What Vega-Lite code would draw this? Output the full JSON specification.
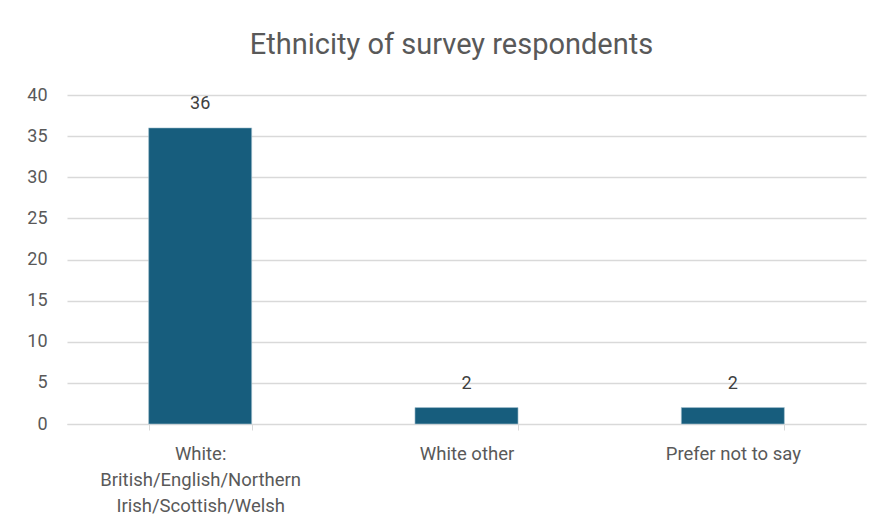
{
  "$schema": "https://vega.github.io/schema/vega-lite/v6.json",
  "autosize": {"type": "none"},
  "padding": {"left": 67, "top": 95, "right": 16, "bottom": 107},
  "width": 799,
  "height": 329,
  "background": "white",
  "title": {
    "text": "Ethnicity of survey respondents",
    "font": "Roboto",
    "fontSize": 29,
    "fontWeight": "normal",
    "color": "#595959",
    "anchor": "middle",
    "offset": 26,
    "dx": -15
  },
  "data": {
    "values": [
      {"ethnicity": "White: British/English/Northern Irish/Scottish/Welsh", "count": 36},
      {"ethnicity": "White other", "count": 2},
      {"ethnicity": "Prefer not to say", "count": 2}
    ]
  },
  "encoding": {
    "x": {
      "field": "ethnicity",
      "type": "nominal",
      "sort": null,
      "scale": {"paddingInner": 0.613, "paddingOuter": 0.3065},
      "axis": {
        "title": null,
        "labelAngle": 0,
        "labelFont": "Roboto",
        "labelFontSize": 18.5,
        "labelColor": "#595959",
        "labelLimit": 400,
        "labelLineHeight": 26,
        "labelPadding": 14,
        "labelExpr": "datum.value == 'White: British/English/Northern Irish/Scottish/Welsh' ? ['White:', 'British/English/Northern', 'Irish/Scottish/Welsh'] : datum.value",
        "domainColor": "#d9d9d9",
        "tickColor": "#d9d9d9",
        "tickSize": 6,
        "tickBand": "extent",
        "grid": false
      }
    },
    "y": {
      "field": "count",
      "type": "quantitative",
      "scale": {"domain": [0, 40]},
      "axis": {
        "title": null,
        "values": [0, 5, 10, 15, 20, 25, 30, 35, 40],
        "labelFont": "Roboto",
        "labelFontSize": 18,
        "labelColor": "#595959",
        "labelPadding": 20,
        "domain": false,
        "ticks": false,
        "gridColor": "#d9d9d9",
        "gridWidth": 1.5
      }
    }
  },
  "layer": [
    {"mark": {"type": "bar", "color": "#175d7d", "stroke": "#a9c4d2", "strokeWidth": 0.6}},
    {
      "mark": {"type": "text", "baseline": "middle", "dy": -24, "font": "Roboto", "fontSize": 18, "color": "#404040"},
      "encoding": {"text": {"field": "count", "type": "quantitative"}}
    }
  ],
  "config": {"view": {"stroke": null}}
}
